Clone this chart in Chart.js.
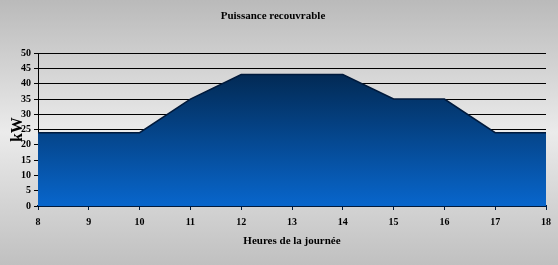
<!DOCTYPE html>
<html><head><meta charset="utf-8">
<script src="https://cdn.jsdelivr.net/npm/chart.js@4/dist/chart.umd.min.js"></script>
<style>html,body{margin:0;padding:0;background:#d8d8d8}#wrap{width:558px;height:265px}</style>
</head><body><div id="wrap"><canvas id="c" width="558" height="265"></canvas></div>
<script>
const hours = [8, 9, 10, 11, 12, 13, 14, 15, 16, 17, 18];
const kW = [24, 24, 24, 35, 43, 43, 43, 35, 35, 24, 24];
const yTicks = [0, 5, 10, 15, 20, 25, 30, 35, 40, 45, 50];
const titleText = 'Puissance recouvrable';
const xTitle = 'Heures de la journée';
const yTitle = 'kW';

const points = hours.map((h, i) => ({x: h, y: kW[i]}));
const lastH = hours[hours.length - 1], lastV = kW[kW.length - 1];

const bgPlugin = {
  id: 'bg',
  beforeDraw(chart) {
    const {ctx, width, height} = chart;
    const g = ctx.createLinearGradient(0, 0, 0, height);
    g.addColorStop(0, '#bababa');
    g.addColorStop(0.5, '#ebebeb');
    g.addColorStop(1, '#c0c0c0');
    ctx.save();
    ctx.fillStyle = g;
    ctx.fillRect(0, 0, width, height);
    ctx.restore();
  }
};

const font = 'Liberation Serif';
new Chart(document.getElementById('c'), {
  type: 'line',
  data: {
    datasets: [{
      data: points,
      fill: 'origin',
      borderColor: '#001a3c',
      borderWidth: 1.5,
      pointRadius: 0,
      tension: 0,
      backgroundColor(ctx) {
        const ca = ctx.chart.chartArea;
        if (!ca) return '#0050a0';
        const y = ctx.chart.scales.y;
        const g = ctx.chart.ctx.createLinearGradient(0, y.getPixelForValue(Math.max(...kW)), 0, ca.bottom);
        g.addColorStop(0, '#022a55');
        g.addColorStop(1, '#0866cc');
        return g;
      }
    }, {
      data: [{x: lastH, y: 0}, {x: lastH, y: lastV}],
      fill: false,
      borderColor: '#001a3c',
      borderWidth: 1.5,
      pointRadius: 0
    }]
  },
  options: {
    responsive: false,
    animation: false,
    layout: {padding: {left: 0, right: 12, top: 0, bottom: 13}},
    plugins: {
      legend: {display: false},
      tooltip: {enabled: false},
      title: {
        display: true, text: titleText, color: '#000',
        font: {family: font, size: 11, weight: 'bold'},
        padding: {top: 10, bottom: 30}
      }
    },
    scales: {
      x: {
        type: 'linear', min: hours[0], max: lastH,
        afterBuildTicks(s) { s.ticks = hours.map(v => ({value: v})); },
        afterFit(s) { s.height = 46; },
        ticks: {color: '#000', font: {family: font, size: 10, weight: 'bold'}, padding: 6, maxRotation: 0},
        grid: {drawOnChartArea: false, drawTicks: true, tickLength: 4, color: '#001a3c'},
        border: {color: '#001a3c', width: 2},
        title: {display: true, text: xTitle, color: '#000', font: {family: font, size: 11, weight: 'bold'}, padding: {top: 4}}
      },
      y: {
        min: 0, max: 50,
        afterBuildTicks(s) { s.ticks = yTicks.map(v => ({value: v})); },
        afterFit(s) { s.width = 38; },
        ticks: {color: '#000', font: {family: font, size: 10, weight: 'bold'}, padding: 3},
        grid: {color: '#000', lineWidth: 1, tickLength: 4, drawTicks: true},
        border: {color: '#000', width: 1},
        title: {display: true, text: yTitle, color: '#000', font: {family: font, size: 16, weight: 'bold'}, padding: {top: 8, bottom: 0}}
      }
    }
  },
  plugins: [bgPlugin]
});
</script></body></html>
